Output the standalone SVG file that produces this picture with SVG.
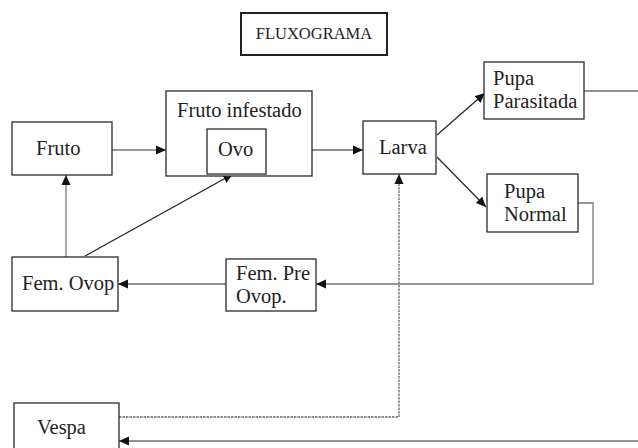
<svg xmlns="http://www.w3.org/2000/svg" width="638" height="448" viewBox="0 0 638 448">
<style>
.box{fill:#fff;stroke:#2a2a2a;stroke-width:1.3}
text{font-family:"Liberation Serif","Times New Roman","DejaVu Serif",serif;fill:#222}
.t{font-size:20.5px}
.ln{fill:none;stroke:#222;stroke-width:1.2}
.gl{fill:none;stroke:#777;stroke-width:1.3}
.dl{fill:none;stroke:#666;stroke-width:1.3;stroke-dasharray:2.5,1}
</style>
<defs>
<marker id="ah" markerUnits="userSpaceOnUse" markerWidth="10" markerHeight="10" viewBox="0 0 10 10" refX="10" refY="5" orient="auto">
<path d="M0,0.5 L10,5 L0,9.5 z" fill="#111"/>
</marker>
</defs>
<g id="title">
<rect x="241" y="13" width="146" height="42" fill="#fff" stroke="#222" stroke-width="2"/>
<text x="314" y="39" text-anchor="middle" font-size="16.5">FLUXOGRAMA</text>
</g>
<g id="connectors">
<line class="gl" x1="112" y1="150" x2="166" y2="150" marker-end="url(#ah)"/>
<line class="ln" x1="266" y1="150" x2="363" y2="150" marker-end="url(#ah)"/>
<line class="ln" x1="437" y1="135" x2="485" y2="93" marker-end="url(#ah)"/>
<line class="ln" x1="437" y1="157" x2="486" y2="207" marker-end="url(#ah)"/>
<line class="ln" x1="584" y1="91" x2="638" y2="91"/>
<polyline class="gl" points="578,203 593,203 593,284 316,284" marker-end="url(#ah)"/>
<line class="ln" x1="226" y1="284" x2="118" y2="284" marker-end="url(#ah)"/>
<line class="gl" x1="66" y1="257" x2="66" y2="175" marker-end="url(#ah)"/>
<line class="ln" x1="85" y1="256" x2="233" y2="174" marker-end="url(#ah)"/>
<polyline class="dl" points="119,417 399,417 399,174" marker-end="url(#ah)"/>
<line class="ln" x1="638" y1="441" x2="119" y2="441" marker-end="url(#ah)"/>
</g>
<g id="fruto">
<rect class="box" x="12" y="122" width="100" height="53"/>
<text class="t" x="36" y="155">Fruto</text>
</g>
<g id="fruto-infestado">
<rect class="box" x="166" y="91" width="146" height="85"/>
<text class="t" x="177" y="117">Fruto infestado</text>
</g>
<g id="ovo">
<rect class="box" x="207" y="129" width="59" height="45"/>
<text class="t" x="218" y="156">Ovo</text>
</g>
<g id="larva">
<rect class="box" x="363" y="121" width="73" height="53"/>
<text class="t" x="379" y="154">Larva</text>
</g>
<g id="pupa-parasitada">
<rect class="box" x="484" y="62" width="100" height="57"/>
<text class="t" x="493" y="85">Pupa</text>
<text class="t" x="493" y="108">Parasitada</text>
</g>
<g id="pupa-normal">
<rect class="box" x="487" y="174" width="91" height="58"/>
<text class="t" x="504" y="198">Pupa</text>
<text class="t" x="504" y="221">Normal</text>
</g>
<g id="fem-ovop">
<rect class="box" x="12" y="257" width="106" height="54"/>
<text class="t" x="22" y="290">Fem. Ovop</text>
</g>
<g id="fem-pre-ovop">
<rect class="box" x="226" y="259" width="90" height="52"/>
<text class="t" x="236" y="280">Fem. Pre</text>
<text class="t" x="236" y="303">Ovop.</text>
</g>
<g id="vespa">
<rect class="box" x="14" y="403" width="105" height="60"/>
<text class="t" x="37" y="434">Vespa</text>
</g>
</svg>
